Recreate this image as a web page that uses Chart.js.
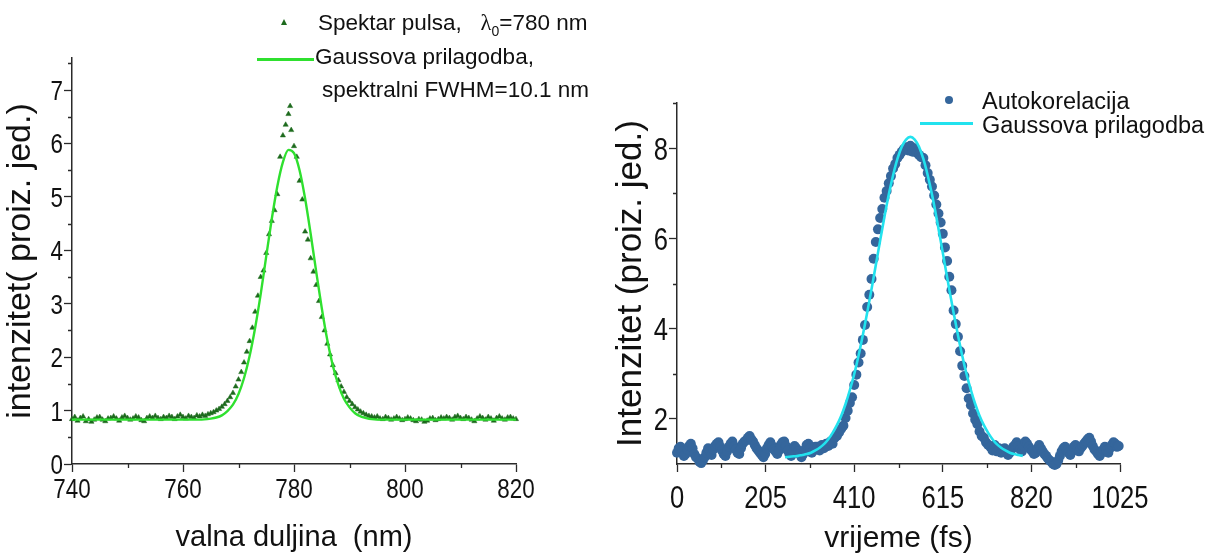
<!DOCTYPE html>
<html><head><meta charset="utf-8">
<script src="https://cdn.jsdelivr.net/npm/chart.js@4/dist/chart.umd.min.js"></script>
<style>
html,body{margin:0;padding:0;background:#fff;width:1214px;height:554px;overflow:hidden;}
body{position:relative;font-family:"Liberation Sans",Arial,sans-serif;}
#c1{position:absolute;left:0;top:0;}
#c2{position:absolute;left:600px;top:0;}
.lg{position:absolute;white-space:nowrap;color:#111;line-height:1;}
.ln{position:absolute;height:3px;}
.lam{font-family:"Liberation Serif","Times New Roman",serif;}
.sub{font-size:14px;position:relative;top:6px;}
</style></head>
<body>
<canvas id="c1" width="600" height="554"></canvas>
<canvas id="c2" width="614" height="554"></canvas>

<!-- left legend -->
<div style="position:absolute;left:281px;top:19px;width:0;height:0;border-left:3px solid transparent;border-right:3px solid transparent;border-bottom:6px solid #1d6a1d;"></div>
<div class="lg" style="left:318px;top:12px;font-size:22.5px;">Spektar pulsa,&nbsp;&nbsp; <span class="lam">λ</span><span class="sub">0</span>=780 nm</div>
<div class="ln" style="left:257px;top:58px;width:57px;background:#2fe02f;"></div>
<div class="lg" style="left:315px;top:46px;font-size:22.5px;">Gaussova prilagodba,</div>
<div class="lg" style="left:322px;top:79px;font-size:22.5px;">spektralni FWHM=10.1 nm</div>

<!-- right legend -->
<div style="position:absolute;left:945px;top:96px;width:8px;height:8px;border-radius:50%;background:#35669c;"></div>
<div class="lg" style="left:982px;top:90px;font-size:23.5px;">Autokorelacija</div>
<div class="ln" style="left:920px;top:122px;width:53px;background:#22e2ee;"></div>
<div class="lg" style="left:982px;top:114px;font-size:23.5px;">Gaussova prilagodba</div>

<script>
// ---------- Left chart: pulse spectrum ----------
const specX = [740,740.5,741,741.5,742,742.5,743,743.5,744,744.5,745,745.5,746,746.5,747,747.5,748,748.5,749,749.5,
  750,750.5,751,751.5,752,752.5,753,753.5,754,754.5,755,755.5,756,756.5,757,757.5,758,758.5,759,759.5,
  760,760.5,761,761.5,762,762.5,763,763.5,764,764.5,765,765.5,766,766.5,767,767.5,768,768.5,769,769.5,
  770,770.5,771,771.5,772,772.5,773,773.5,774,774.5,775,775.5,776,776.5,777,777.5,778,778.5,779,779.3,779.5,
  780,780.5,781,781.5,782,782.5,783,783.5,784,784.5,785,785.5,786,786.5,787,787.5,788,788.5,789,789.5,
  790,790.5,791,791.5,792,792.5,793,793.5,794,794.5,795,795.5,796,796.5,797,797.5,798,798.5,799,799.5,
  800,800.5,801,801.5,802,802.5,803,803.5,804,804.5,805,805.5,806,806.5,807,807.5,808,808.5,809,809.5,
  810,810.5,811,811.5,812,812.5,813,813.5,814,814.5,815,815.5,816,816.5,817,817.5,818,818.5,819,819.5,820];
const specY = [0.84,0.88,0.81,0.86,0.89,0.80,0.84,0.79,0.83,0.87,0.88,0.83,0.80,0.85,0.86,0.89,0.85,0.81,0.87,0.90,
  0.86,0.83,0.85,0.89,0.87,0.82,0.80,0.86,0.89,0.86,0.90,0.86,0.84,0.88,0.86,0.90,0.88,0.84,0.89,0.92,
  0.88,0.85,0.90,0.88,0.86,0.91,0.89,0.92,0.90,0.93,0.95,0.97,1.00,1.03,1.07,1.12,1.18,1.25,1.33,1.45,
  1.58,1.72,1.90,2.10,2.30,2.55,2.85,3.15,3.50,3.62,3.95,4.30,4.55,4.75,5.05,5.75,6.15,6.35,6.55,6.70,6.25,
  5.95,5.75,5.30,4.95,4.35,4.20,3.85,3.60,3.35,3.05,2.75,2.50,2.25,2.05,1.85,1.70,1.57,1.45,1.35,1.25,
  1.18,1.12,1.06,1.02,0.98,0.95,0.92,0.90,0.89,0.87,0.89,0.85,0.84,0.88,0.86,0.83,0.85,0.88,0.85,0.82,
  0.84,0.87,0.85,0.82,0.80,0.84,0.83,0.79,0.81,0.85,0.86,0.82,0.84,0.87,0.85,0.88,0.86,0.83,0.88,0.90,
  0.86,0.84,0.88,0.86,0.83,0.80,0.85,0.89,0.86,0.83,0.88,0.85,0.81,0.86,0.89,0.85,0.83,0.87,0.88,0.85,0.84];
const specFitX = [740,745,750,755,760,763,765,766,767,768,769,770,771,772,773,774,775,776,777,778,779,780,
  781,782,783,784,785,786,787,788,789,790,791,792,793,794,796,800,805,810,815,820];
const specFitY = [0.83,0.83,0.83,0.83,0.83,0.83,0.85,0.87,0.91,0.99,1.11,1.31,1.61,2.02,2.55,3.18,3.89,4.59,5.20,5.65,5.88,5.82,
  5.50,4.97,4.31,3.60,2.92,2.32,1.84,1.48,1.22,1.06,0.95,0.89,0.86,0.84,0.83,0.83,0.83,0.83,0.83,0.83];
const specXTicks = [740,760,780,800,820];
const specXMinor = [750,770,790,810];
const specYTicks = [0,1,2,3,4,5,6,7];
const specYMinor = [0.5,1.5,2.5,3.5,4.5,5.5,6.5,7.5];

// ---------- Right chart: autocorrelation ----------
const autoTime = [
  0,4,8,12,16,20,24,28,32,36,
  40,44,48,52,56,60,64,68,72,76,
  80,84,88,92,96,100,104,108,112,116,
  120,124,128,132,136,140,144,148,152,156,
  160,164,168,172,176,180,184,188,192,196,
  200,204,208,212,216,220,224,228,232,236,
  240,244,248,252,256,260,264,268,272,276,
  280,284,288,292,296,300,304,308,312,316,
  320,
  325,330,335,340,345,350,355,360,365,370,375,380,385,390,395,400,405,410,415,420,425,430,435,440,445,
  450,455,460,465,470,475,480,485,490,495,500,505,510,515,520,525,530,535,540,545,550,555,560,565,570,
  575,580,585,590,595,600,605,610,615,620,625,630,635,640,645,650,655,660,665,670,675,680,685,690,695,
  700,705,710,715,720,725,730,735,740,745,750,
  754,758,762,766,770,774,778,782,786,790,
  794,798,802,806,810,814,818,822,826,830,
  834,838,842,846,850,854,858,862,866,870,
  874,878,882,886,890,894,898,902,906,910,
  914,918,922,926,930,934,938,942,946,950,
  954,958,962,966,970,974,978,982,986,990,
  994,998,1002,1006,1010,1014,1018,1022];
const autoIntensity = [
  1.25,1.35,1.38,1.28,1.18,1.22,1.32,1.40,1.45,1.35,
  1.22,1.15,1.12,1.05,1.02,1.08,1.15,1.25,1.35,1.28,
  1.20,1.32,1.40,1.45,1.48,1.38,1.30,1.22,1.18,1.28,
  1.38,1.45,1.50,1.40,1.32,1.25,1.22,1.35,1.45,1.50,
  1.52,1.58,1.62,1.55,1.50,1.42,1.35,1.30,1.25,1.20,
  1.15,1.22,1.35,1.42,1.48,1.40,1.32,1.28,1.22,1.30,
  1.42,1.48,1.50,1.40,1.30,1.22,1.18,1.28,1.40,1.35,
  1.28,1.22,1.15,1.22,1.32,1.42,1.45,1.35,1.25,1.30,
  1.38,
  1.38,1.30,1.42,1.35,1.45,1.40,1.50,1.45,1.58,1.62,1.70,1.78,1.85,2.02,2.18,2.35,2.48,2.75,2.98,3.25,3.45,3.75,4.08,4.48,4.75,
  5.10,5.55,5.92,6.20,6.45,6.65,6.90,7.05,7.22,7.38,7.55,7.65,7.78,7.85,7.92,7.98,8.02,7.95,8.05,7.92,8.00,7.90,7.85,7.80,7.78,
  7.62,7.45,7.30,7.15,6.95,6.75,6.55,6.35,6.10,5.80,5.50,5.15,4.85,4.40,4.10,3.82,3.50,3.18,2.95,2.68,2.45,2.30,2.12,1.98,1.88,
  1.72,1.62,1.58,1.48,1.42,1.38,1.30,1.42,1.28,1.35,1.25,
  1.30,1.35,1.28,1.20,1.25,1.32,1.38,1.42,1.48,1.40,
  1.32,1.28,1.40,1.50,1.45,1.38,1.32,1.28,1.22,1.25,
  1.35,1.42,1.35,1.28,1.22,1.18,1.12,1.08,1.05,1.00,
  0.98,1.00,1.08,1.18,1.28,1.35,1.38,1.30,1.25,1.20,
  1.28,1.38,1.42,1.32,1.28,1.35,1.40,1.45,1.50,1.55,
  1.58,1.50,1.40,1.32,1.28,1.22,1.18,1.25,1.32,1.38,
  1.30,1.25,1.35,1.42,1.48,1.45,1.38,1.40];
const autoFitTime = [250,260,270,280,290,300,310,320,330,340,350,360,370,380,390,400,410,420,430,440,450,460,470,480,490,
  500,510,520,530,540,550,560,570,580,590,600,610,620,630,640,650,660,670,680,690,700,710,720,730,740,750,760,770,780,790,800];
const autoFitIntensity = [1.15,1.16,1.17,1.18,1.20,1.22,1.25,1.30,1.36,1.44,1.55,1.69,1.86,2.07,2.33,2.64,2.99,3.40,3.86,4.35,
  4.87,5.41,5.95,6.48,6.97,7.40,7.76,8.03,8.19,8.25,8.19,8.03,7.76,7.40,6.97,6.48,5.95,5.41,4.87,4.35,3.86,3.40,2.99,2.64,2.33,
  2.07,1.86,1.69,1.55,1.44,1.36,1.30,1.25,1.22,1.20,1.18];
const autoXTicks = [0,205,410,615,820,1025];
const autoXMinor = [102.5,307.5,512.5,717.5,922.5];
const autoYTicks = [2,4,6,8];
const autoYMinor = [3,5,7,9];

// ---------- helpers ----------
const pairs = (xs, ys) => xs.map((x, i) => ({x: x, y: ys[i]}));
const AX = '#2a2a2a';
const TXT = '#111';
const regular = '"Liberation Sans",Arial,sans-serif';

// minor ticks + condensed tick labels, positioned through the chart's own scales
const axisExtras = {
  id: 'axisExtras',
  afterDraw(chart, args, opts) {
    const ctx = chart.ctx, xs = chart.scales.x, ys = chart.scales.y;
    ctx.save();
    ctx.strokeStyle = AX; ctx.lineWidth = 1.3;
    ctx.beginPath();
    (opts.x || []).forEach(v => { const p = Math.round(xs.getPixelForValue(v)) + 0.5; ctx.moveTo(p, xs.top); ctx.lineTo(p, xs.top + opts.len); });
    (opts.y || []).forEach(v => { const p = Math.round(ys.getPixelForValue(v)) + 0.5; ctx.moveTo(ys.right, p); ctx.lineTo(ys.right - opts.len, p); });
    ctx.stroke();
    ctx.fillStyle = TXT;
    ctx.font = opts.size + 'px ' + regular;
    const sx = opts.squeeze;
    ctx.textBaseline = 'alphabetic';
    ctx.textAlign = 'center';
    xs.ticks.forEach(t => {
      const px = xs.getPixelForValue(t.value);
      ctx.save(); ctx.translate(px, xs.top + opts.xBase); ctx.scale(sx, 1); ctx.fillText(String(t.value), 0, 0); ctx.restore();
    });
    ctx.textAlign = 'right';
    ys.ticks.forEach(t => {
      const py = ys.getPixelForValue(t.value);
      ctx.save(); ctx.translate(ys.right - 9, py + opts.size * 0.358); ctx.scale(sx, 1); ctx.fillText(String(t.value), 0, 0); ctx.restore();
    });
    ctx.restore();
  }
};

function makeChart(id, cfg) {
  return new Chart(document.getElementById(id), {
    type: 'scatter',
    data: { datasets: cfg.datasets },
    plugins: [axisExtras],
    options: {
      responsive: false, animation: false, devicePixelRatio: 1,
      layout: { padding: cfg.padding },
      plugins: { legend: { display: false }, tooltip: { enabled: false },
        axisExtras: { x: cfg.xMinor, y: cfg.yMinor, len: 4, size: cfg.tickSize, squeeze: 0.8, xBase: cfg.xBase } },
      scales: {
        x: {
          type: 'linear', min: cfg.xMin, max: cfg.xMax,
          afterBuildTicks: s => { s.ticks = cfg.xTicks.map(v => ({value: v})); },
          afterFit: s => { s.height = cfg.xHeight; },
          grid: { drawOnChartArea: false, drawTicks: true, tickLength: 8, tickColor: AX, tickWidth: 1.3 },
          border: { display: true, color: AX, width: 1.5 },
          ticks: { display: false },
          title: { display: true, text: cfg.xTitle, color: TXT, font: { family: regular, size: cfg.xTitleSize, lineHeight: 1 },
                   padding: { top: 0, bottom: cfg.xTitlePad } }
        },
        y: {
          type: 'linear', min: cfg.yMin, max: cfg.yMax,
          afterBuildTicks: s => { s.ticks = cfg.yTicks.map(v => ({value: v})); },
          afterFit: s => { s.width = cfg.yWidth; },
          grid: { drawOnChartArea: false, drawTicks: true, tickLength: 8, tickColor: AX, tickWidth: 1.3 },
          border: { display: true, color: AX, width: 1.5 },
          ticks: { display: false },
          title: { display: true, text: cfg.yTitle, color: TXT, font: { family: regular, size: cfg.yTitleSize, lineHeight: 1 },
                   padding: { top: cfg.yTitlePad, bottom: 0 } }
        }
      }
    }
  });
}

makeChart('c1', {
  datasets: [
    { label: 'Gaussova prilagodba', data: pairs(specFitX, specFitY), showLine: true, pointRadius: 0,
      borderColor: '#2fe02f', borderWidth: 2.4, cubicInterpolationMode: 'monotone', fill: false },
    { label: 'Spektar pulsa', data: pairs(specX, specY), showLine: false, pointStyle: 'triangle', pointRadius: 3,
      backgroundColor: '#1d6a1d', borderColor: '#1d6a1d', borderWidth: 0.5, clip: false }
  ],
  padding: { left: 0, top: 58, right: 84, bottom: 0 },
  xMin: 740, xMax: 820, xTicks: specXTicks, xMinor: specXMinor,
  yMin: 0, yMax: 7.6, yTicks: specYTicks, yMinor: specYMinor,
  xHeight: 90, yWidth: 72, tickSize: 28, xBase: 34,
  xTitle: 'valna duljina  (nm)', xTitleSize: 29, xTitlePad: 2,
  yTitle: 'intenzitet( proiz. jed.)', yTitleSize: 34, yTitlePad: 4
});

makeChart('c2', {
  datasets: [
    { label: 'Gaussova prilagodba', data: pairs(autoFitTime, autoFitIntensity), showLine: true, pointRadius: 0,
      borderColor: '#22e2ee', borderWidth: 2.6, cubicInterpolationMode: 'monotone', fill: false },
    { label: 'Autokorelacija', data: pairs(autoTime, autoIntensity), showLine: false, pointStyle: 'circle', pointRadius: 5,
      backgroundColor: '#35669c', borderWidth: 0, clip: false }
  ],
  padding: { left: 0, top: 103, right: 94, bottom: 0 },
  xMin: 0, xMax: 1025, xTicks: autoXTicks, xMinor: autoXMinor,
  yMin: 1, yMax: 9, yTicks: autoYTicks, yMinor: autoYMinor,
  xHeight: 90, yWidth: 77, tickSize: 32, xBase: 44,
  xTitle: 'vrijeme (fs)', xTitleSize: 30, xTitlePad: 0,
  yTitle: 'Intenzitet (proiz. jed.)', yTitleSize: 35, yTitlePad: 14
});
</script>
</body></html>
